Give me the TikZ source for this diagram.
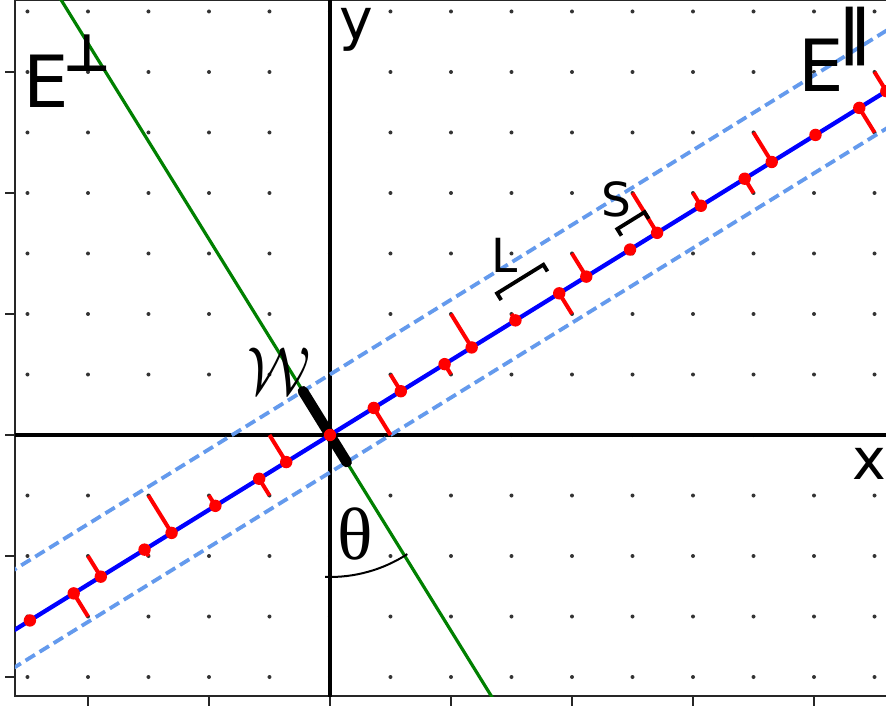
\documentclass[tikz,border=0pt]{standalone}
\usepackage{fontspec}
\usepackage{graphicx}
\newfontfamily\dvs{DejaVu Sans}
\newfontfamily\dvsb{DejaVu Sans Bold}
\newfontfamily\lserif{Liberation Serif}
\usetikzlibrary{calc}
\def\cth{0.850651}
\def\sth{0.525731}
\newcommand\mybracket[3]{%
  \draw[brk] ({#1*\cth-(#3-0.13)*\sth},{#1*\sth+(#3-0.13)*\cth}) --
    ({#1*\cth-#3*\sth},{#1*\sth+#3*\cth}) --
    ({#2*\cth-#3*\sth},{#2*\sth+#3*\cth}) --
    ({#2*\cth-(#3-0.13)*\sth},{#2*\sth+(#3-0.13)*\cth});}
\begin{document}
\begin{tikzpicture}[x=60.5pt,y=60.5pt,
  frame/.style={line width=1.6pt,black!85},
  axisl/.style={line width=3.5pt,black},
  gridd/.style={fill=black!80},
  strip/.style={line width=3.8pt,color={rgb,255:red,100;green,154;blue,237},dash pattern=on 11pt off 5.5pt},
  parl/.style={line width=4.3pt,blue},
  perpl/.style={line width=3.2pt,color={rgb,255:red,0;green,128;blue,0}},
  redl/.style={line width=4pt,red},
  reddot/.style={fill=red},
  wseg/.style={line width=10.5pt,black,line cap=round},
  brk/.style={line width=3.8pt,black,line join=miter},
  arcl/.style={line width=2pt,black},
  sanslab/.style={inner sep=0pt,text=black}]
\useasboundingbox (-5.4545,-4.5289) rectangle (9.1901,7.1901);
\clip (-5.4545,-4.5289) rectangle (9.1901,7.1901);
% frame and ticks
\draw[frame] (9.6,7.182) -- (-5.207,7.182) -- (-5.207,-4.314) -- (9.6,-4.314);
\foreach \v in {-4,-2,...,6} \draw[frame] (-5.207,\v) -- ++(-0.165,0);
\foreach \v in {-4,-2,...,8} \draw[frame] (\v,-4.314) -- ++(0,-0.165);
\begin{scope}
\clip (-5.207,-4.314) rectangle (9.6,7.182);
% lattice
\foreach \i in {-5,...,9} \foreach \j in {-4,...,7} \fill[gridd] (\i,\j) circle (2pt);
% axes
\draw[axisl] (-5.3,0) -- (9.6,0);
\draw[axisl] (0,-4.4) -- (0,7.3);
% strip boundaries
\draw[strip] ({-9*\cth},{1-9*\sth}) -- ({13*\cth},{1+13*\sth});
\draw[strip] ({1-9*\cth},{-9*\sth}) -- ({1+13*\cth},{13*\sth});
% E parallel and E perp
\draw[parl] ({-9*\cth},{-9*\sth}) -- ({13*\cth},{13*\sth});
\draw[perpl] ({8*\sth},{-8*\cth}) -- ({-9*\sth},{9*\cth});
% projection lines
\foreach \m/\n in {-6/-4,-6/-3,-5/-3,-4/-3,-4/-2,-3/-2,-3/-1,-2/-1,-1/-1,-1/0,0/0,1/0,1/1,2/1,2/2,3/2,4/2,4/3,5/3,5/4,6/4,7/4,7/5,8/5,9/5,9/6,10/6,10/7} {
  \pgfmathsetmacro\tpar{\m*\cth+\n*\sth}
  \draw[redl] (\m,\n) -- ({\tpar*\cth},{\tpar*\sth});
}
% window
\draw[wseg] (-0.447214,0.723607) -- (0.276393,-0.447214);
% projected points
\foreach \m/\n in {-6/-4,-6/-3,-5/-3,-4/-3,-4/-2,-3/-2,-3/-1,-2/-1,-1/-1,-1/0,0/0,1/0,1/1,2/1,2/2,3/2,4/2,4/3,5/3,5/4,6/4,7/4,7/5,8/5,9/5,9/6,10/6,10/7} {
  \pgfmathsetmacro\tpar{\m*\cth+\n*\sth}
  \fill[reddot] ({\tpar*\cth},{\tpar*\sth}) circle (6.2pt);
}
% brackets
\mybracket{3.58}{4.48}{0.54}
\mybracket{5.83}{6.36}{0.40}
% angle arc
\draw[arcl] ({2.347*cos(-92)},{2.347*sin(-92)}) arc[start angle=-92,end angle=-57,radius=2.347];
\end{scope}
% labels
\node[sanslab,font=\dvs\fontsize{72}{80}\selectfont] (eperp) at (-4.686,5.851) {E};
\node[sanslab,font=\dvsb\fontsize{52}{56}\selectfont] (perpsym) at (-4.008,6.306) {⊥};
\node[sanslab,font=\dvs\fontsize{72}{80}\selectfont] (epar) at (8.116,6.116) {E};
\node[sanslab,font=\dvsb\fontsize{60}{64}\selectfont] (parsym) at (8.665,6.587) {∥};
\node[sanslab,font=\dvs\fontsize{57}{60}\selectfont] (ylab) at (0.438,6.70) {y};
\node[sanslab,font=\dvs\fontsize{57}{60}\selectfont] (xlab) at (8.92,-0.479) {x};
\node[sanslab,font=\dvs\fontsize{47}{50}\selectfont] (llab) at (2.893,2.967) {L};
\node[sanslab,font=\dvs\fontsize{47}{50}\selectfont] (slab) at (4.736,3.893) {S};
\node[sanslab,font=\lserif\fontsize{74}{80}\selectfont] (thlab) at (0.413,-1.636) {θ};
\node[sanslab] (wlab) at (-0.843,1.050) {\scalebox{5.9}[6.8]{$\mathcal{W}$}};
\end{tikzpicture}
\end{document}
